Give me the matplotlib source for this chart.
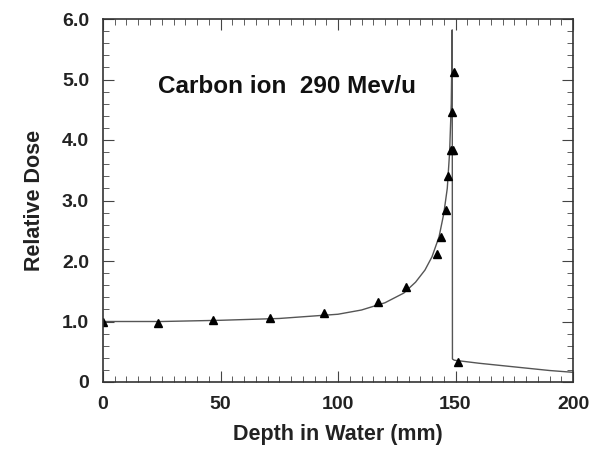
import numpy as np
import matplotlib.pyplot as plt
from matplotlib.ticker import MultipleLocator, FixedLocator

# measured points (triangles)
depth_pts = [0, 23.5, 47, 71, 94, 117, 129, 142, 144, 146, 147, 148, 149, 148.5, 149.5, 151]
dose_pts = [1.0, 0.98, 1.02, 1.06, 1.14, 1.33, 1.57, 2.12, 2.4, 2.85, 3.4, 3.83, 3.83, 4.46, 5.12, 0.33]

# calculated curve
depth_line = [0, 25, 50, 75, 100, 110, 120, 128, 133, 137, 140, 143, 145, 146.5, 147.5,
              148.2, 148.6, 148.7, 149.5, 160, 175, 190, 200]
dose_line = [1.0, 1.0, 1.02, 1.05, 1.12, 1.19, 1.31, 1.47, 1.65, 1.85, 2.07, 2.4, 2.78, 3.2, 3.8,
             4.6, 5.82, 0.38, 0.36, 0.31, 0.25, 0.19, 0.16]

x_ticks = [0, 50, 100, 150, 200]
y_ticks = [0, 1, 2, 3, 4, 5, 6]
y_labels = ['0', '1.0', '2.0', '3.0', '4.0', '5.0', '6.0']

plt.rcParams['font.family'] = ['Liberation Sans', 'DejaVu Sans']

fig = plt.figure(figsize=(6.01, 4.5), dpi=100)
ax = fig.add_axes([103 / 601, 1 - 382 / 450, 470 / 601, 363 / 450])

ax.plot(depth_line, dose_line, color='#555555', linewidth=1.0)
ax.plot(depth_pts, dose_pts, linestyle='none', marker='^', color='black', markersize=5.5)

ax.set_xlim(0, 200)
ax.set_ylim(0, 6)
ax.xaxis.set_major_locator(FixedLocator(x_ticks))
ax.xaxis.set_minor_locator(MultipleLocator(5))
ax.yaxis.set_major_locator(FixedLocator(y_ticks))
ax.yaxis.set_minor_locator(MultipleLocator(0.2))
ax.set_yticklabels(y_labels)

ax.tick_params(which='both', direction='in', top=True, right=True, color='#444444')
ax.tick_params(which='major', length=8, labelsize=14, pad=10)
ax.tick_params(which='minor', length=4)
for lab in ax.get_xticklabels() + ax.get_yticklabels():
    lab.set_fontweight('bold')
    lab.set_color('#222222')
for sp in ax.spines.values():
    sp.set_color('#333333')
    sp.set_linewidth(1.2)

ax.set_xlabel('Depth in Water (mm)', fontsize=15.5, fontweight='bold', color='#222222', labelpad=8)
ax.set_ylabel('Relative Dose', fontsize=15.5, fontweight='bold', color='#222222', labelpad=12)

ax.text(23.4, 4.78, 'Carbon ion  290 Mev/u', fontsize=17.5, fontweight='bold', color='#111111')

fig.savefig('out.png', dpi=100)
